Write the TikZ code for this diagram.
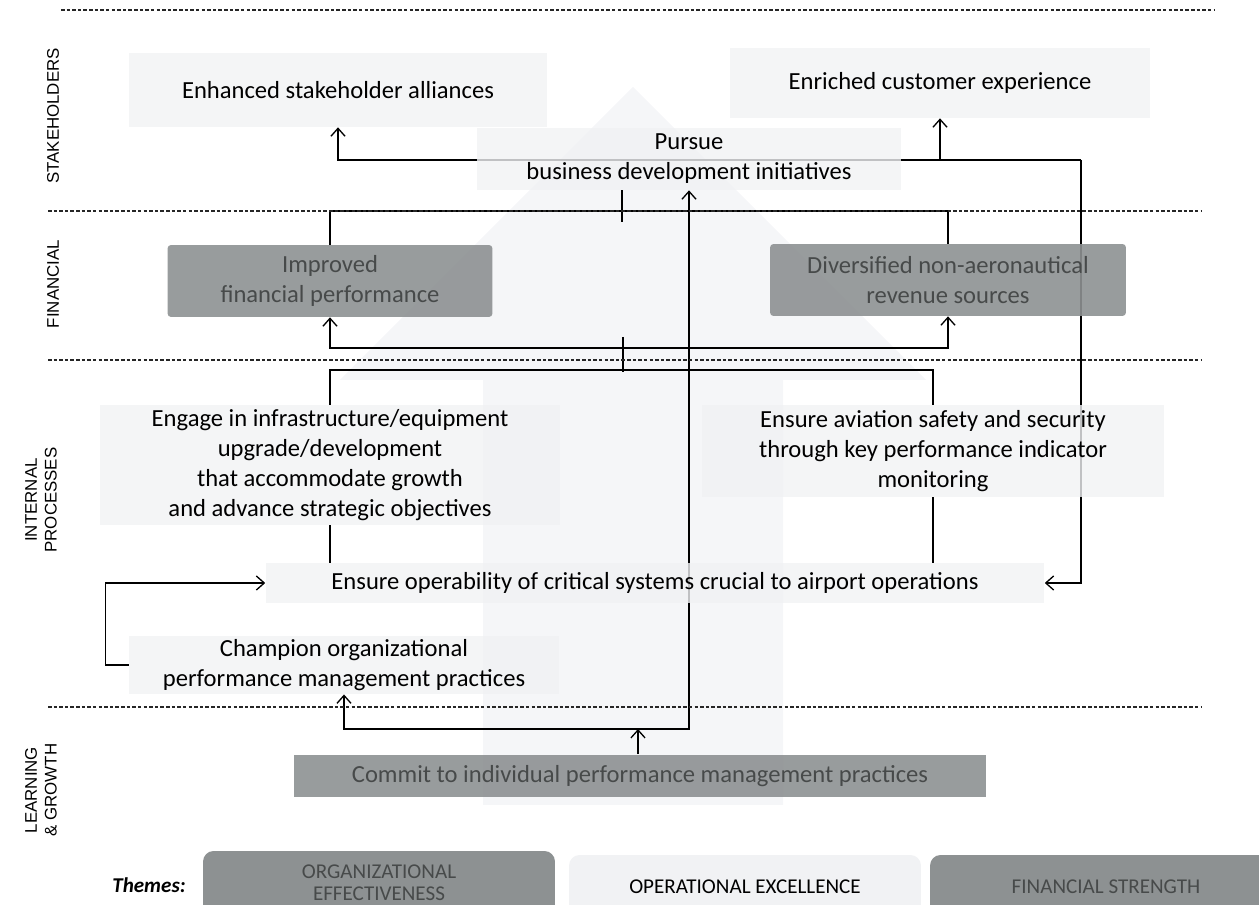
\documentclass[tikz,border=0pt]{standalone}
\usepackage{fontspec}
\setmainfont{Carlito}
\newfontfamily\sidefont{Liberation Sans}
\usetikzlibrary{arrows.meta,backgrounds}
\definecolor{boxlight}{HTML}{F1F2F4}
\definecolor{boxdark}{HTML}{8D9192}
\definecolor{textdark}{HTML}{474A4A}
\definecolor{arrowbg}{HTML}{F5F6F8}
\begin{document}
\begin{tikzpicture}[x=0.02cm, y=-0.02cm,
        >={Straight Barb[length=4.5pt,width=8pt]},
        lbox/.style={fill=boxlight, fill opacity=0.8, text opacity=1, align=center, inner sep=2pt, font=\fontsize{14}{17}\selectfont},
        dbox/.style={fill=boxdark, fill opacity=0.9, text opacity=1, text=textdark, rounded corners=2pt, align=center, inner sep=2pt, font=\fontsize{14}{17}\selectfont},
        theme/.style={rounded corners=6pt, minimum width=7.04cm, minimum height=1.28cm, align=center, font=\fontsize{12}{14}\selectfont},
        side/.style={rotate=90, align=center, font=\sidefont\fontsize{9.6}{11.3}\selectfont},
        sep/.style={dash pattern=on 2pt off 1.2pt, line width=0.6pt, black!85},
        link/.style={line width=0.75pt}]
        \useasboundingbox (0,0) rectangle (1259,905);

        % section separators
        \draw[sep] (61,10) -- (1214,10);
        \draw[sep] (48,211) -- (1202,211);
        \draw[sep] (48,360) -- (1202,360);
        \draw[sep] (48,707) -- (1202,707);

        \node[side] (stake) at (53,116) {STAKEHOLDERS};
        \node[side] (fin) at (53,284) {FINANCIAL};
        \node[side] (internal) at (41,500) {INTERNAL\\PROCESSES};
        \node[side] (learn) at (41,790) {LEARNING\\\& GROWTH};

        \node[lbox, minimum width=8.36cm, minimum height=1.48cm] (enhanced) at (338,90) {Enhanced stakeholder alliances};
        \node[lbox, minimum width=8.4cm, minimum height=1.4cm] (enriched) at (940,83) {Enriched customer experience};
        \node[lbox, minimum width=8.5cm, minimum height=1.24cm] (pursue) at (689,159) {Pursue\\business development initiatives};
        \node[dbox, minimum width=6.5cm, minimum height=1.44cm] (improved) at (330,281) {Improved\\financial performance};
        \node[dbox, minimum width=7.12cm, minimum height=1.44cm] (diversified) at (948,280) {Diversified non-aeronautical\\revenue sources};
        \node[lbox, minimum width=9.2cm, minimum height=2.4cm] (engage) at (330,465) {Engage in infrastructure/equipment\\upgrade/development\\that accommodate growth\\and advance strategic objectives};
        \node[lbox, minimum width=9.26cm, minimum height=1.84cm] (aviation) at (933,451) {Ensure aviation safety and security\\through key performance indicator\\monitoring};
        \node[lbox, minimum width=15.58cm, minimum height=0.8cm] (operab) at (655,583) {Ensure operability of critical systems crucial to airport operations};
        \node[lbox, minimum width=8.6cm, minimum height=1.12cm] (champion) at (344,665) {Champion organizational\\performance management practices};
        \node[dbox, rounded corners=0pt, minimum width=13.86cm, minimum height=0.86cm] (commit) at (640,776) {Commit to individual performance management practices};

        \node[font=\bfseries\itshape\fontsize{12}{14}\selectfont] (themes) at (149,885) {Themes:};
        \node[theme, fill=boxdark, text=textdark, font=\fontsize{12}{12.5}\selectfont] (orgeff) at (379,883) {ORGANIZATIONAL\\EFFECTIVENESS};
        \node[theme, fill=boxlight] (opexc) at (745,887) {OPERATIONAL EXCELLENCE};
        \node[theme, fill=boxdark, text=textdark] (finstr) at (1106,887) {FINANCIAL STRENGTH};

        \begin{scope}[on background layer]
            % big arrow behind everything
            \fill[arrowbg] (633,87) -- (926,380) -- (783,380) -- (783,805) -- (483,805) -- (483,380) -- (340,380) -- cycle;

            \coordinate (topbus) at (1081,160);
            \draw[link,->] (topbus) -| (enhanced);
            \draw[link,->] (topbus) -| (enriched);
            \draw[link,->] (topbus) |- (operab);

            \coordinate (fintop) at (622,211);
            \coordinate (fintick) at (622,222);
            \draw[link] (improved) |- (fintop) -| (diversified);
            \draw[link] (pursue.south -| fintick) -- (fintick);

            \coordinate (finbot) at (623,348);
            \coordinate (inttop) at (623,370);
            \draw[link,->] (finbot) -| (improved);
            \draw[link,->] (finbot) -| (diversified);
            \draw[link] (engage) |- (inttop) -| (aviation);
            \draw[link] ([yshift=0.22cm]finbot) -- ([yshift=-0.04cm]inttop);

            \draw[link] (engage) -- (engage |- operab.north);
            \draw[link] (aviation) -- (aviation |- operab.north);
            \draw[link,->] (champion.west) -- ++(-23,0) |- (operab);

            \coordinate (lgbus) at (638,729);
            \draw[link,->] (commit.north -| lgbus) -- (lgbus);
            \draw[link,->] (lgbus) -| (champion);
            \draw[link,->] (lgbus) -| (pursue);
        \end{scope}
    \end{tikzpicture}
\end{document}
